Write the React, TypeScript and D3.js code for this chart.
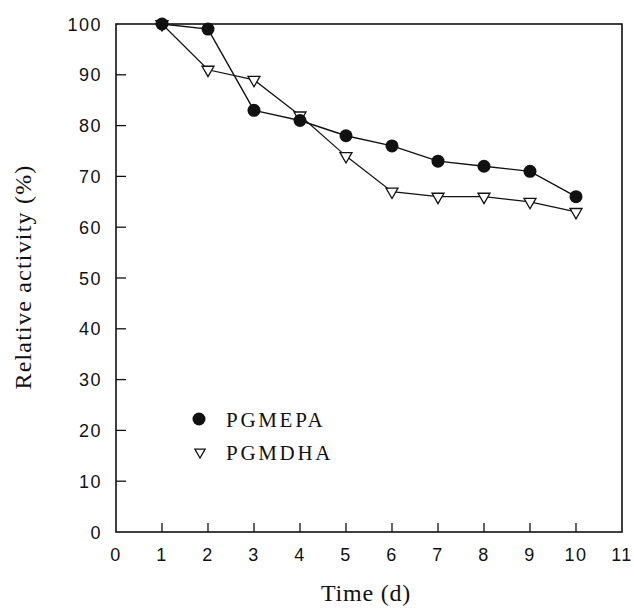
import React from 'react';
import * as d3 from 'd3';

const days = [1, 2, 3, 4, 5, 6, 7, 8, 9, 10];
const pgmepa = [100, 99, 83, 81, 78, 76, 73, 72, 71, 66];
const pgmdha = [100, 91, 89, 82, 74, 67, 66, 66, 65, 63];
const xTicks = [0, 1, 2, 3, 4, 5, 6, 7, 8, 9, 10, 11];
const yTicks = [0, 10, 20, 30, 40, 50, 60, 70, 80, 90, 100];

const W = 634;
const H = 608;
const margin = { left: 116, right: 12, top: 24, bottom: 76 };

const App = () => {
  const x = d3.scaleLinear().domain([0, 11]).range([margin.left, W - margin.right]);
  const y = d3.scaleLinear().domain([0, 100]).range([H - margin.bottom, margin.top]);

  const line = d3
    .line<number>()
    .x((_, i) => x(days[i]))
    .y((d) => y(d));

  const tri = d3.symbol().type(d3.symbolTriangle).size(62)();
  const triSmall = d3.symbol().type(d3.symbolTriangle).size(46)();
  const sans = 'Liberation Sans, Arial, sans-serif';
  const serif = 'Liberation Serif, Times New Roman, serif';

  return (
    <svg width={W} height={H} style={{ position: 'absolute', left: 0, top: 0 }}>
      <rect width={W} height={H} fill="#fff" />
      <rect
        x={x(0)}
        y={y(100)}
        width={x(11) - x(0)}
        height={y(0) - y(100)}
        fill="none"
        stroke="#111"
        strokeWidth={1.6}
      />
      {xTicks.slice(1, -1).map((t) => (
        <line key={t} x1={x(t)} x2={x(t)} y1={y(0)} y2={y(0) - 9} stroke="#111" strokeWidth={1.3} />
      ))}
      {yTicks.slice(1, -1).map((t) => (
        <line key={t} x1={x(0)} x2={x(0) + 10} y1={y(t)} y2={y(t)} stroke="#111" strokeWidth={1.3} />
      ))}
      {xTicks.map((t) => (
        <text key={t} x={x(t)} y={y(0) + 29} textAnchor="middle" fontFamily={sans} fontSize={18} letterSpacing={1.5} fill="#111">
          {t}
        </text>
      ))}
      {yTicks.map((t) => (
        <text key={t} x={x(0) - 14} y={y(t) + 6.5} textAnchor="end" fontFamily={sans} fontSize={18} letterSpacing={1.5} fill="#111">
          {t}
        </text>
      ))}
      <text x={366} y={601} textAnchor="middle" fontFamily={serif} fontSize={24} letterSpacing={0.8} fill="#111">
        Time (d)
      </text>
      <text
        transform={`translate(31,277) rotate(-90)`}
        textAnchor="middle"
        fontFamily={serif}
        fontSize={24}
        letterSpacing={1.2}
        fill="#111"
      >
        Relative activity (%)
      </text>

      <path d={line(pgmdha) ?? ''} fill="none" stroke="#111" strokeWidth={1.2} />
      <path d={line(pgmepa) ?? ''} fill="none" stroke="#111" strokeWidth={1.4} />
      {pgmdha.map((v, i) => (
        <path
          key={i}
          d={tri ?? ''}
          transform={`translate(${x(days[i])},${y(v)}) rotate(180)`}
          fill="#fff"
          stroke="#111"
          strokeWidth={1.3}
        />
      ))}
      {pgmepa.map((v, i) => (
        <circle key={i} cx={x(days[i])} cy={y(v)} r={6.5} fill="#111" />
      ))}

      <circle cx={199} cy={419} r={6.5} fill="#111" />
      <text x={226} y={427} fontFamily={serif} fontSize={21} letterSpacing={2.7} fill="#111">
        PGMEPA
      </text>
      <path d={triSmall ?? ''} transform="translate(200,452) rotate(180)" fill="#fff" stroke="#111" strokeWidth={1.3} />
      <text x={226} y={460} fontFamily={serif} fontSize={21} letterSpacing={2.7} fill="#111">
        PGMDHA
      </text>
    </svg>
  );
};

export default App;
